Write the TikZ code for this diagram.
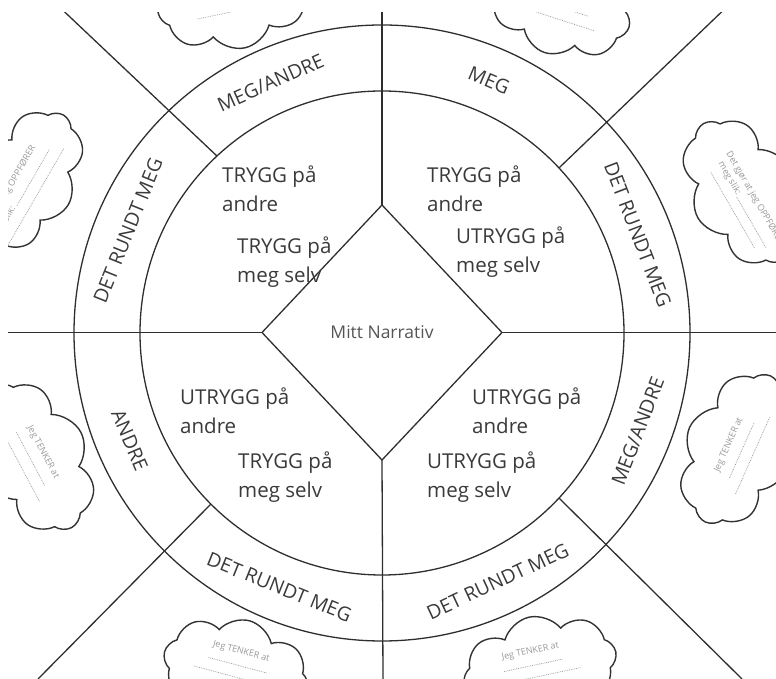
\documentclass[tikz,border=0pt]{standalone}
\usepackage{fontspec}
\setmainfont{Open Sans}
\usetikzlibrary{shapes.geometric,shapes.symbols,calc}
\definecolor{ink}{HTML}{2E2E2E}
\definecolor{txt}{HTML}{3A3A3A}
\definecolor{soft}{HTML}{555555}
\definecolor{faint}{HTML}{9A9A9A}
\begin{document}
\begin{tikzpicture}[x=1pt,y=1pt,
  ln/.style={draw=ink, line width=1.3pt},
  ringlabel/.style={font=\fontsize{19.5}{23}\selectfont, text=txt, inner sep=0pt},
  quad/.style={font=\fontsize{20.5}{29}\selectfont, text=txt, align=left, anchor=west, inner sep=0pt},
  puff/.style={cloud, cloud puffs=8, cloud puff arc=125, draw=black!80, line width=1.4pt, inner sep=0pt, fill=white},
  cloudtxt/.style={font=\fontsize{9}{11}\selectfont, text=faint, inner sep=0pt},
  dotline/.style={draw=faint, line width=0.7pt, dash pattern=on 0.8pt off 1pt}
]
\useasboundingbox (0,0) rectangle (776,679);
\clip (8,0) rectangle (776,666);
\coordinate (C) at (382,346);
% rings and centre
\node[circle, ln, minimum size=616pt, outer sep=0pt, inner sep=0pt] (outer) at (C) {};
\node[circle, ln, minimum size=484pt, outer sep=0pt, inner sep=0pt] (inner) at (C) {};
\node[diamond, ln, minimum width=240pt, minimum height=255pt, aspect=0.94, inner sep=0pt, outer sep=0pt,
      font=\fontsize{17.5}{20}\selectfont, text=soft] (D) at (382,346.5) {Mitt Narrativ};
% radial lines
\coordinate (topend) at (382,679);
\coordinate (botend) at (383,0);
\coordinate (leftend) at (0,346.5);
\coordinate (rightend) at (776,346.5);
\coordinate (tlend) at (52,679);
\coordinate (trend) at (734,679);
\coordinate (blend) at (38,0);
\coordinate (brend) at (742,0);
\draw[ln] (D.north) -- (topend);
\draw[ln] (D.south) -- (botend);
\draw[ln] (D.west) -- (leftend);
\draw[ln] (D.east) -- (rightend);
\draw[ln] (inner.133.4) -- (tlend);
\draw[ln] (inner.43.5) -- (trend);
\draw[ln] (inner.225) -- (blend);
\draw[ln] (inner.317) -- (brend);
% ring labels
\node[ringlabel, rotate=24]  (r1) at ($(C)+(114:274)$) {MEG/ANDRE};
\node[ringlabel, rotate=-23] (r2) at ($(C)+(67:274)$) {MEG};
\node[ringlabel, rotate=-69] (r3) at ($(C)+(21:274)$) {DET RUNDT MEG};
\node[ringlabel, rotate=69]  (r4) at ($(C)+(-21:274)$) {MEG/ANDRE};
\node[ringlabel, rotate=25]  (r5) at ($(C)+(-65:274)$) {DET RUNDT MEG};
\node[ringlabel, rotate=-22] (r6) at ($(C)+(-112:274)$) {DET RUNDT MEG};
\node[ringlabel, rotate=-67] (r7) at ($(C)+(203:274)$) {ANDRE};
\node[ringlabel, rotate=68]  (r8) at ($(C)+(158:274)$) {DET RUNDT MEG};
% quadrant texts
\node[quad] (q1) at (222,490) {TRYGG på\\andre};
\node[quad] (q2) at (237,417) {TRYGG på\\meg selv};
\node[quad] (q3) at (427,490) {TRYGG på\\andre};
\node[quad] (q4) at (456,427) {UTRYGG på\\meg selv};
\node[quad] (q5) at (180,268) {UTRYGG på\\andre};
\node[quad] (q6) at (238,202) {TRYGG på\\meg selv};
\node[quad] (q7) at (472,268) {UTRYGG på\\andre};
\node[quad] (q8) at (427,202) {UTRYGG på\\meg selv};
% clouds
\begin{scope}[shift={(234,682)}, rotate=12, transform shape]
  \node[puff, minimum width=155pt, minimum height=104pt] (k1) at (0,0) {};
  \node[cloudtxt] (k1t) at (0,12) {Jeg TENKER at};
  \draw[dotline] (-30,-2) -- (30,-2);
  \draw[dotline] (-40,-14) -- (40,-14);
\end{scope}
\begin{scope}[shift={(560,674)}, rotate=-18, transform shape]
  \node[puff, minimum width=145pt, minimum height=100pt] (k2) at (0,0) {};
  \node[cloudtxt] (k2t) at (0,12) {Jeg TENKER at};
  \draw[dotline] (-30,-2) -- (30,-2);
  \draw[dotline] (-40,-14) -- (40,-14);
\end{scope}
\begin{scope}[shift={(26,499)}, rotate=60, transform shape]
  \node[puff, minimum width=150pt, minimum height=98pt] (k3) at (0,0) {};
  \node[cloudtxt, anchor=east] (k3t) at (33,10) {Det gjør at jeg OPPFØRER};
  \node[cloudtxt, anchor=east] (k3s) at (-30,-3) {meg slik:};
  \draw[dotline] (-27,-5) -- (38,-5);
  \draw[dotline] (-70,-17) -- (46,-17);
\end{scope}
\begin{scope}[shift={(743,487)}, rotate=-60, transform shape]
  \node[puff, minimum width=158pt, minimum height=104pt] (k4) at (0,0) {};
  \node[cloudtxt, anchor=west] (k4t) at (-42,7) {Det gjør at jeg OPPFØRER};
  \node[cloudtxt, anchor=west] (k4s) at (-37,-5) {meg slik:};
  \draw[dotline] (1,-8) -- (60,-8);
  \draw[dotline] (-33,-18) -- (54,-18);
\end{scope}
\begin{scope}[shift={(34,222)}, rotate=-62, transform shape]
  \node[puff, minimum width=160pt, minimum height=106pt] (k5) at (0,0) {};
  \node[cloudtxt] (k5t) at (0,10) {Jeg TENKER at};
  \draw[dotline] (-30,-4) -- (30,-4);
  \draw[dotline] (-42,-16) -- (42,-16);
\end{scope}
\begin{scope}[shift={(738,230)}, rotate=66, transform shape]
  \node[puff, minimum width=160pt, minimum height=106pt] (k6) at (0,0) {};
  \node[cloudtxt] (k6t) at (0,10) {Jeg TENKER at};
  \draw[dotline] (-30,-4) -- (30,-4);
  \draw[dotline] (-42,-16) -- (42,-16);
\end{scope}
\begin{scope}[shift={(236,8)}, rotate=-15, transform shape]
  \node[puff, minimum width=148pt, minimum height=104pt] (k7) at (0,0) {};
  \node[cloudtxt] (k7t) at (0,20) {Jeg TENKER at};
  \draw[dotline] (-30,6) -- (30,6);
  \draw[dotline] (-42,-6) -- (42,-6);
\end{scope}
\begin{scope}[shift={(540,11)}, rotate=12, transform shape]
  \node[puff, minimum width=155pt, minimum height=104pt] (k8) at (0,0) {};
  \node[cloudtxt] (k8t) at (-6,18) {Jeg TENKER at};
  \draw[dotline] (-36,4) -- (24,4);
  \draw[dotline] (-44,-8) -- (40,-8);
\end{scope}
\end{tikzpicture}
\end{document}
